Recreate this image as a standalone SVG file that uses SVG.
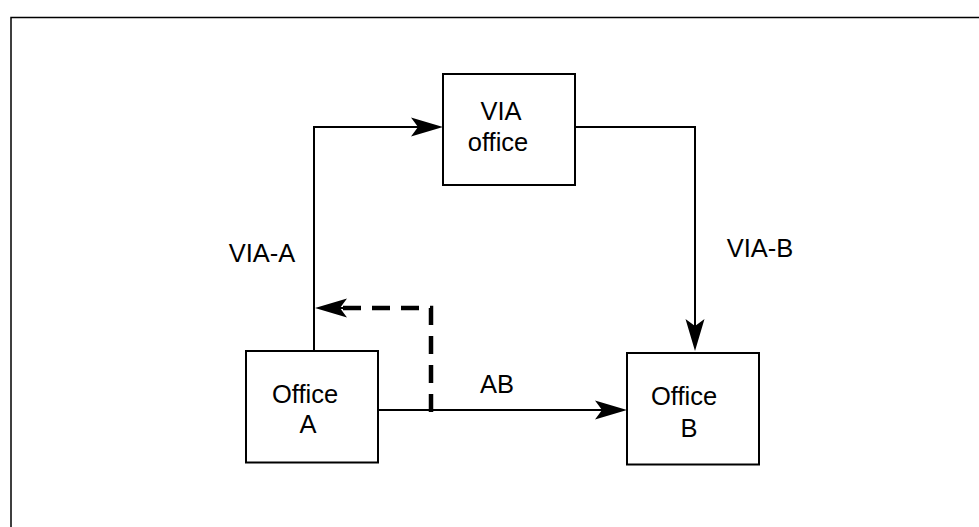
<svg xmlns="http://www.w3.org/2000/svg" width="979" height="527" viewBox="0 0 979 527">
<defs>
<style>
.box{fill:#fff;stroke:#000;stroke-width:2}
.ln{fill:none;stroke:#000;stroke-width:2}
.dash{fill:none;stroke:#000;stroke-width:4.5;stroke-dasharray:18 11}
.t{font-family:"Liberation Sans",Arial,sans-serif;font-size:25.5px;fill:#000;text-anchor:middle}
.frame{fill:none;stroke:#000;stroke-width:1.5}
</style>
<path id="ah" d="M0,0 L-32,-9.5 L-25,0 L-32,9.5 Z" fill="#000"/>
</defs>
<rect width="979" height="527" fill="#fff"/>
<path class="frame" d="M11,527 L11,17.5 L979,17.5"/>
<g id="connectors">
<path class="ln" d="M314,351 L314,127 L420,127"/>
<use href="#ah" transform="translate(443,127)"/>
<path class="ln" d="M575,127 L695,127 L695,330"/>
<use href="#ah" transform="translate(695,351) rotate(90)"/>
<path class="ln" d="M378,410 L605,410"/>
<use href="#ah" transform="translate(627,410)"/>
<path class="dash" d="M431,412 L431,308 L340,308"/>
<path class="ln" d="M345,308 L330,308"/>
<use href="#ah" transform="translate(315,308) rotate(180)"/>
</g>
<g id="via">
<rect class="box" x="443" y="74" width="132" height="111"/>
<text class="t" x="501" y="120">VIA</text>
<text class="t" x="498" y="151">office</text>
</g>
<g id="officeA">
<rect class="box" x="246" y="351" width="132" height="111.5"/>
<text class="t" x="305" y="403">Office</text>
<text class="t" x="308" y="433">A</text>
</g>
<g id="officeB">
<rect class="box" x="627" y="353" width="132" height="111.5"/>
<text class="t" x="684" y="405">Office</text>
<text class="t" x="689" y="437">B</text>
</g>
<g id="labels">
<text class="t" x="262" y="262">VIA-A</text>
<text class="t" x="760" y="257">VIA-B</text>
<text class="t" x="497" y="393">AB</text>
</g>
</svg>
